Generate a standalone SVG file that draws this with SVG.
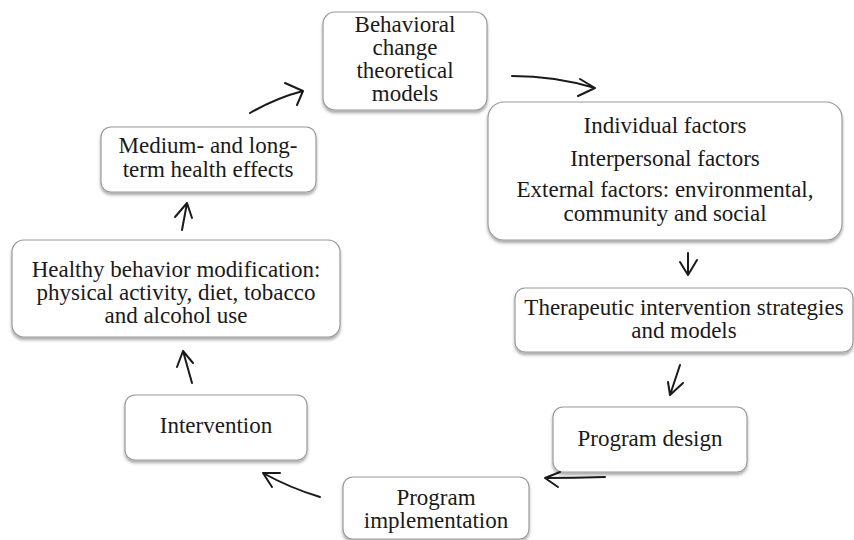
<svg xmlns="http://www.w3.org/2000/svg" width="854" height="540" viewBox="0 0 854 540">
<defs>
<filter id="sh" x="-10%" y="-10%" width="120%" height="130%">
<feDropShadow dx="0" dy="2.5" stdDeviation="1.5" flood-color="#000" flood-opacity="0.35"/>
</filter>
<style>
.box{fill:#fff;stroke:#9a9a9a;stroke-width:1.2;filter:url(#sh)}
.t{font-family:"Liberation Serif","Times New Roman",serif;font-size:23px;fill:#1a1a1a;text-anchor:middle}
.c{fill:none;stroke:#1a1a1a;stroke-width:2;stroke-linecap:round;stroke-linejoin:round}
</style>
</defs>
<rect width="854" height="540" fill="#fff"/>
<g id="n1"><rect class="box" x="323" y="12" width="164" height="98" rx="12"/>
<text class="t" x="405" y="32">Behavioral</text><text class="t" x="405" y="55">change</text><text class="t" x="405" y="78">theoretical</text><text class="t" x="405" y="101">models</text></g>
<g id="n2"><rect class="box" x="488" y="102" width="354" height="138" rx="16"/>
<text class="t" x="665" y="133">Individual factors</text><text class="t" x="665" y="166">Interpersonal factors</text><text class="t" x="665" y="197">External factors: environmental,</text><text class="t" x="665" y="221">community and social</text></g>
<g id="n3"><rect class="box" x="515" y="288" width="338" height="64" rx="10"/>
<text class="t" x="684" y="315">Therapeutic intervention strategies</text><text class="t" x="684" y="338">and models</text></g>
<g id="n4"><rect class="box" x="553" y="407" width="194" height="65" rx="10"/>
<text class="t" x="650" y="446">Program design</text></g>
<g id="n5"><rect class="box" x="343" y="477" width="186" height="62" rx="10"/>
<text class="t" x="436" y="505">Program</text><text class="t" x="436" y="528">implementation</text></g>
<g id="n6"><rect class="box" x="125" y="395" width="182" height="65" rx="10"/>
<text class="t" x="216" y="433">Intervention</text></g>
<g id="n7"><rect class="box" x="12" y="240" width="328" height="97" rx="12"/>
<text class="t" x="176" y="277">Healthy behavior modification:</text><text class="t" x="176" y="300">physical activity, diet, tobacco</text><text class="t" x="176" y="323">and alcohol use</text></g>
<g id="n8"><rect class="box" x="101" y="127" width="215" height="65" rx="10"/>
<text class="t" x="208" y="153">Medium- and long-</text><text class="t" x="208" y="177">term health effects</text></g>
<g id="connectors">
<path class="c" d="M250,113 Q276,98 303,91 M285,83 L303,91 L297,105"/>
<path class="c" d="M512,76 Q555,76 595,88 M580,79 L595,88 L578,96"/>
<path class="c" d="M688,253 L688,275 M680,262 L688,275 L697,260"/>
<path class="c" d="M680,365 L670,395 M668,382 L670,395 L683,383"/>
<path class="c" d="M605,477 Q575,478 545,478 M560,472 L545,478 L558,487"/>
<path class="c" d="M320,497 Q290,488 263,473 M280,473 L263,473 L272,487"/>
<path class="c" d="M192,383 L183,351 M177,367 L183,351 L193,363"/>
<path class="c" d="M182,230 L187,203 M175,217 L187,203 L192,218"/>
</g>
</svg>
